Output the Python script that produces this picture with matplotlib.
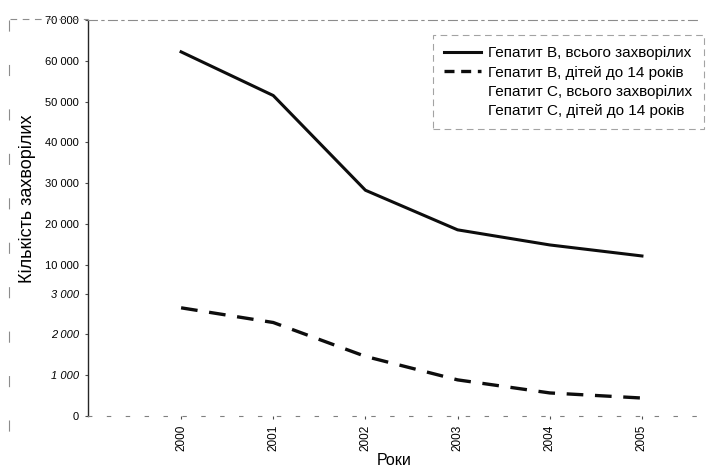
import numpy as np
import matplotlib
matplotlib.use("Agg")
import matplotlib.pyplot as plt
from matplotlib.lines import Line2D

plt.rcParams['font.family'] = ['Liberation Sans', 'DejaVu Sans']

# Дані
years = ['2000', '2001', '2002', '2003', '2004', '2005']
hep_b_total = [62200, 51500, 28300, 18600, 14900, 12200]
hep_b_kids = [2650, 2290, 1460, 885, 565, 440]

labels = ["Гепатит В, всього захворілих",
          "Гепатит В, дітей до 14 років",
          "Гепатит С, всього захворілих",
          "Гепатит С, дітей до 14 років"]

y_ticks = [0, 1000, 2000, 3000, 10000, 20000, 30000, 40000, 50000, 60000, 70000]

# Розірвана вісь: 0..3000 і 10000..70000 в одному масштабі
xp = [-1e6, 0, 3000, 10000, 1e7]
fp = [-1000, 0, 3, 3.70, 3.70 + 999]


def fwd(v):
    return np.interp(v, xp, fp)


def inv(u):
    return np.interp(u, fp, xp)


fig = plt.figure(figsize=(7.08, 4.71), dpi=100)
ax = fig.add_axes([88/708, 55/471, 612/708, 396/471])
ax.set_yscale('function', functions=(fwd, inv))

x = np.arange(len(years))
ax.plot(x, hep_b_total, color='0.05', lw=2.2, solid_joinstyle='round')
ax.plot(x, hep_b_kids, color='0.05', lw=2.4, dashes=(5, 3.5))

ax.set_xlim(-1.01, 5.63)
ax.set_ylim(0, 70000)
ax.set_xticks(x)
ax.set_xticklabels(years, rotation=90, fontsize=8.5)
ax.set_yticks(y_ticks)
ax.set_yticklabels([f"{v:,}".replace(',', ' ') for v in y_ticks], fontsize=8)
for lab, v in zip(ax.get_yticklabels(), y_ticks):
    if 0 < v <= 3000:
        lab.set_style('italic')
ax.yaxis.set_minor_locator(plt.NullLocator())
ax.tick_params(axis='both', length=2.5, width=0.8, color='0.3', pad=4)

ax.spines['right'].set_visible(False)
ax.spines['top'].set_color('0.55')
ax.spines['top'].set_linestyle((0, (8, 4, 2, 4)))
ax.spines['top'].set_linewidth(0.8)
ax.spines['bottom'].set_color('0.5')
ax.spines['bottom'].set_linestyle((0, (3, 14)))
ax.spines['left'].set_color('0.15')
ax.spines['left'].set_linewidth(1.0)

ax.set_xlabel("Роки", fontsize=11.5, labelpad=1)
ax.set_ylabel("Кількість захворілих", fontsize=13)
ax.yaxis.set_label_coords(-0.085, 0.548)

handles = [Line2D([], [], color='0.05', lw=2.2),
           Line2D([], [], color='0.05', lw=2.4, dashes=(3, 2)),
           Line2D([], [], color='none'),
           Line2D([], [], color='none')]
leg = ax.legend(handles, labels, loc='upper left',
                bbox_to_anchor=(433/708, 1 - 35/471), bbox_transform=fig.transFigure,
                borderaxespad=0, fontsize=11, handlelength=2.4, handletextpad=0.45,
                fancybox=False, labelspacing=0.33, borderpad=0.75)
frame = leg.get_frame()
frame.set_edgecolor('0.55')
frame.set_linestyle((0, (6, 4)))
frame.set_linewidth(0.8)

# сліди рамки сканування
fig.add_artist(Line2D([10/708, 88/708], [1 - 19/471, 1 - 19/471],
                      color='0.55', lw=0.8, ls=(0, (6, 5))))
fig.add_artist(Line2D([9/708, 9/708], [1 - 20/471, 1 - 460/471],
                      color='0.55', lw=0.8, ls=(0, (10, 30))))

fig.savefig("out.png", dpi=100)
